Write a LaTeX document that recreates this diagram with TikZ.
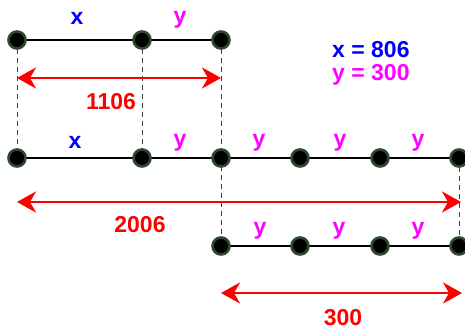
\documentclass[tikz,border=0pt]{standalone}
\usepackage{fontspec}
\setmainfont{Liberation Sans}
\usetikzlibrary{arrows.meta}
\definecolor{nodeedge}{HTML}{2E4A2E}
\definecolor{mag}{HTML}{FF00FF}
\definecolor{blu}{HTML}{0000FF}
\definecolor{rd}{HTML}{FF0000}
\tikzset{
  pt/.style={circle, fill=black, draw=nodeedge, line width=2.6pt, minimum size=17pt, inner sep=0pt},
  seg/.style={line width=2.6pt, black},
  guide/.style={dashed, dash pattern=on 5pt off 4pt, line width=0.8pt, black!75},
  dim/.style={rd, line width=2.6pt, {Stealth[length=19pt, width=21pt, inset=6pt]}-{Stealth[length=19pt, width=21pt, inset=6pt]}},
  lab/.style={font=\fontsize{23}{23}\selectfont\bfseries, inner sep=0pt},
  leg/.style={font=\fontsize{23}{23}\selectfont\bfseries, inner sep=0pt, anchor=west}
}
\begin{document}
\begin{tikzpicture}[x=1pt, y=-1pt]
\useasboundingbox (0,0) rectangle (465,331);
% coordinates
\coordinate (a1) at (17,40);
\coordinate (a2) at (142,40);
\coordinate (a3) at (221,40);
\coordinate (b1) at (17,158);
\coordinate (b2) at (142,158);
\coordinate (b3) at (221,158);
\coordinate (b4) at (300,158);
\coordinate (b5) at (380,158);
\coordinate (b6) at (459,158);
\coordinate (c1) at (221,246);
\coordinate (c2) at (300,246);
\coordinate (c3) at (380,246);
\coordinate (c4) at (459,246);
% guides
\draw[guide] (a1) -- (b1);
\draw[guide] (a2) -- (b2);
\draw[guide] (a3) -- (c1);
\draw[guide] (b6) -- (c4);
% segments
\draw[seg] (a1) -- (a3);
\draw[seg] (b1) -- (b6);
\draw[seg] (c1) -- (c4);
% points
\foreach \n in {a1,a2,a3,b1,b2,b3,b4,b5,b6,c1,c2,c3,c4}
  \node[pt] (p\n) at (\n) {};
% dimension arrows
\coordinate (d1s) at (17,78); \coordinate (d1e) at (221,78);
\draw[dim] (d1s) -- (d1e);
\coordinate (d2s) at (17,202); \coordinate (d2e) at (461,202);
\draw[dim] (d2s) -- (d2e);
\coordinate (d3s) at (221,293); \coordinate (d3e) at (462,293);
\draw[dim] (d3s) -- (d3e);
% labels
\node[lab, blu] (lx1) at (77,18) {x};
\node[lab, mag] (ly1) at (180,20) {y};
\node[lab, blu] (lx2) at (75,142) {x};
\node[lab, mag] (ly2) at (180,143) {y};
\node[lab, mag] (ly3) at (259,143) {y};
\node[lab, mag] (ly4) at (340,143) {y};
\node[lab, mag] (ly5) at (418,143) {y};
\node[lab, mag] (ly6) at (260,231) {y};
\node[lab, mag] (ly7) at (339,231) {y};
\node[lab, mag] (ly8) at (418,231) {y};
\node[lab, rd] (n1) at (111,102) {1106};
\node[lab, rd] (n2) at (140,225) {2006};
\node[lab, rd] (n3) at (343,318) {300};
\node[leg, blu] (lg1) at (332,50) {x = 806};
\node[leg, mag] (lg2) at (332,75) {y = 300};
\end{tikzpicture}
\end{document}
